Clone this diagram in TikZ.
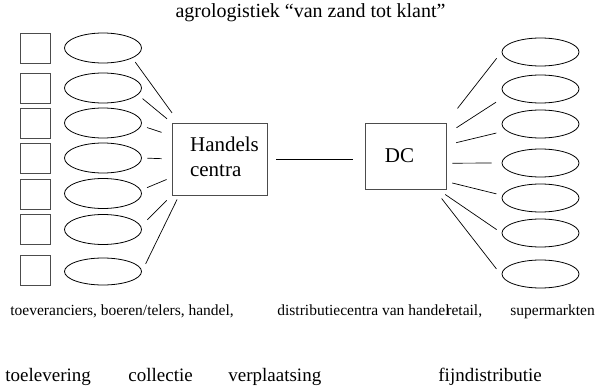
\documentclass[tikz,border=0pt]{standalone}
\usepackage{fontspec}
\setmainfont{Liberation Serif}
\usetikzlibrary{shapes.geometric}

\begin{document}
\begin{tikzpicture}[x=1pt,y=-1pt,
    line width=0.8pt,
    farm/.style={draw=black!70,minimum size=30pt,inner sep=0pt},
    party/.style={ellipse,draw,minimum width=77pt,minimum height=30pt,inner sep=0pt},
    outlet/.style={ellipse,draw,minimum width=77pt,minimum height=28pt,inner sep=0pt},
    hub/.style={draw=black!70,inner sep=0pt,font=\fontsize{21}{25}\selectfont},
    flow/.style={draw,line width=0.7pt},
    role/.style={anchor=base west,inner sep=0pt,font=\fontsize{15.5}{18}\selectfont},
    step label/.style={anchor=base west,inner sep=0pt,font=\fontsize{19}{22}\selectfont}]

       \useasboundingbox (0,0) rectangle (596,390);

       \node[anchor=base,inner sep=0pt,font=\fontsize{20}{24}\selectfont] (title) at (310.5,18) {agrologistiek “van zand tot klant”};

       % suppliers
       \node[farm] (f1) at (35,48) {};
       \node[farm] (f2) at (35,88) {};
       \node[farm] (f3) at (35,123) {};
       \node[farm] (f4) at (35,158) {};
       \node[farm] (f5) at (35,194) {};
       \node[farm] (f6) at (35,229.5) {};
       \node[farm] (f7) at (35,270) {};

       % growers
       \node[party] (el1) at (103,48) {};
       \node[party] (el2) at (103,88) {};
       \node[party] (el3) at (103,123) {};
       \node[party] (el4) at (103,158) {};
       \node[party] (el5) at (103,193.5) {};
       \node[party] (el6) at (103,229.5) {};
       \node[party,minimum height=27pt] (el7) at (103,271.5) {};

       \node[hub,minimum width=95pt,minimum height=72pt] (hc) at (219.5,159) {\begin{tabular}{@{\hspace{10pt}}l@{}}Handels\\centra\end{tabular}};
       \node[hub,minimum width=81pt,minimum height=66pt] (dc) at (405.5,156) {DC\hspace*{12pt}};

       % shops
       \node[outlet] (er1) at (540.5,52) {};
       \node[outlet] (er2) at (540.5,89) {};
       \node[outlet] (er3) at (540.5,124) {};
       \node[outlet] (er4) at (540.5,163) {};
       \node[outlet] (er5) at (540.5,198) {};
       \node[outlet] (er6) at (540.5,233) {};
       \node[outlet] (er7) at (540.5,274) {};

       \draw[flow,shorten <=5pt,shorten >=12pt] (el1.-19) -- (hc.138);
       \draw[flow,shorten <=6pt,shorten >=6pt] (el2.-11) -- (hc.north west);
       \draw[flow,shorten <=6pt,shorten >=10.5pt] (el3.-4) -- (hc.154);
       \draw[flow,shorten <=5.5pt,shorten >=10pt] (el4.east) -- (hc.west);
       \draw[flow,shorten <=6.5pt,shorten >=5.5pt] (el5.5) -- (hc.201);
       \draw[flow,shorten <=9pt,shorten >=7pt] (el6.5) -- (hc.south west);
       \draw[flow,shorten <=8.5pt,shorten >=4.5pt] (el7.east) -- (hc.222);

       \draw[flow,shorten <=9pt,shorten >=12pt] (hc.east) -- (hc.east -| dc.west);

       \draw[flow,shorten <=18pt,shorten >=8pt] (dc.north east) -- (er1.west);
       \draw[flow,shorten <=12pt,shorten >=12pt] (dc.28) -- (er2.191);
       \draw[flow,shorten <=10pt,shorten >=10pt] (dc.15) -- (er3.191);
       \draw[flow,shorten <=6pt,shorten >=10pt] (dc.-10) -- (er4.west);
       \draw[flow,shorten <=6pt,shorten >=6pt] (dc.-32) -- (er5.176);
       \draw[flow,shorten <=9pt,shorten >=6pt] (dc.-46) -- (er6.west);
       \draw[flow,shorten <=11.5pt,shorten >=9pt] (dc.-49) -- (er7.183);

       \node[role] (r1) at (10,315) {toeveranciers, boeren/telers, handel,};
       \node[role] (r2) at (277,315) {distributiecentra van handel};
       \node[role] (r3) at (446,315) {retail,};
       \node[role] (r4) at (510,315) {supermarkten};

       \node[step label] (s1) at (5,381) {toelevering};
       \node[step label] (s2) at (128,381) {collectie};
       \node[step label] (s3) at (228,381) {verplaatsing};
       \node[step label] (s4) at (438,381) {fijndistributie};
     \end{tikzpicture}
\end{document}
